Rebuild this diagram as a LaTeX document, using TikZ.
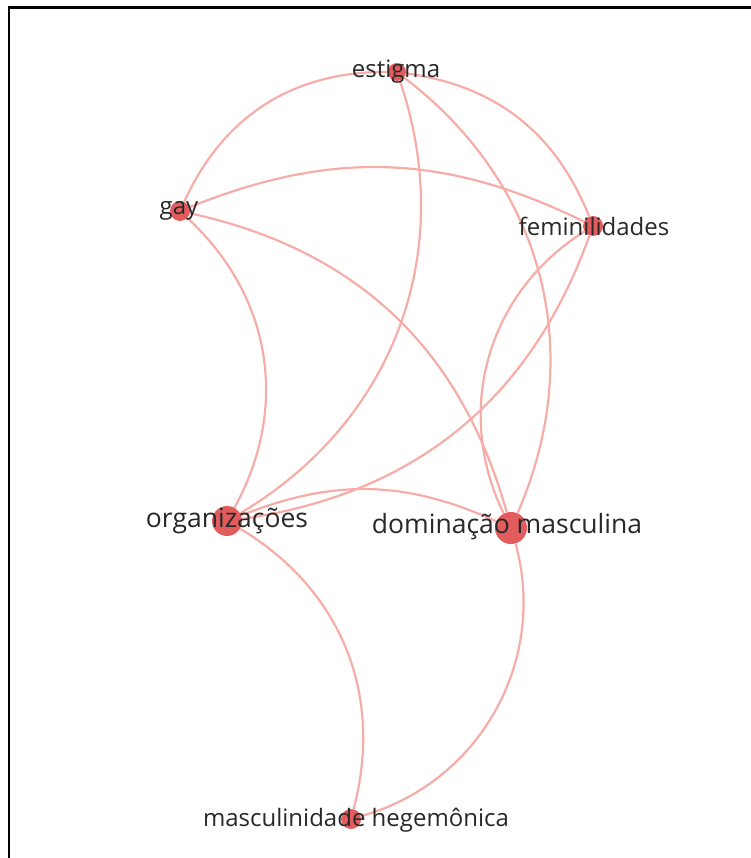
\documentclass[tikz,border=0pt]{standalone}
\usepackage{fontspec}
\setmainfont{Open Sans}
\usepackage{xcolor, tikz}
\definecolor{edgecol}{RGB}{246,172,167}
\definecolor{nodecol}{RGB}{226,92,94}
\definecolor{labcol}{RGB}{40,40,40}
\tikzstyle{term} = [circle, fill=nodecol, inner sep=0pt]
\tikzstyle{lab} = [text=labcol, inner sep=0pt, font=\fontsize{24}{28}\selectfont]
\tikzstyle{biglab} = [text=labcol, inner sep=0pt, font=\fontsize{26.5}{30}\selectfont]
\tikzstyle{link} = [draw=edgecol, line width=2.2pt]

\begin{document}
\begin{tikzpicture}[x=1pt, y=-1pt]
      \useasboundingbox (0,0) rectangle (751,858);
      \draw [line width=2.5pt](9,858) -- (9,7.7) -- (751,7.7);
      \node (est)[term, minimum size=18pt] at (397,72) {};
      \node (gay)[term, minimum size=20pt] at (180,211) {};
      \node (fem)[term, minimum size=20pt] at (593,226) {};
      \node (org)[term, minimum size=30pt] at (227,521) {};
      \node (dom)[term, minimum size=32pt] at (511,528) {};
      \node (mas)[term, minimum size=20pt] at (351,819) {};
      \draw [link](est) to[bend right=33] (gay);
      \draw [link](est) to[bend left=30] (fem);
      \draw [link](est) to[bend left=39] (org);
      \draw [link](est) to[bend left=38] (dom);
      \draw [link](gay) to[bend left=24] (fem);
      \draw [link](gay) to[bend left=38] (org);
      \draw [link](gay) to[bend left=31] (dom);
      \draw [link](fem) to[bend left=31] (org);
      \draw [link](fem) to[bend right=42] (dom);
      \draw [link](org) to[bend left=23] (dom);
      \draw [link](org) to[bend left=37] (mas);
      \draw [link](dom) to[bend left=45] (mas);
      \node (est-t)[lab] at (396,72) {estigma};
      \node (gay-t)[lab] at (179,211) {gay};
      \node (fem-t)[lab] at (594,226) {feminilidades};
      \node (org-t)[biglab] at (227,521) {organizações};
      \node (dom-t)[biglab] at (507,527) {dominação masculina};
      \node (mas-t)[lab] at (356,820) {masculinidade hegemônica};
    \end{tikzpicture}
\end{document}
